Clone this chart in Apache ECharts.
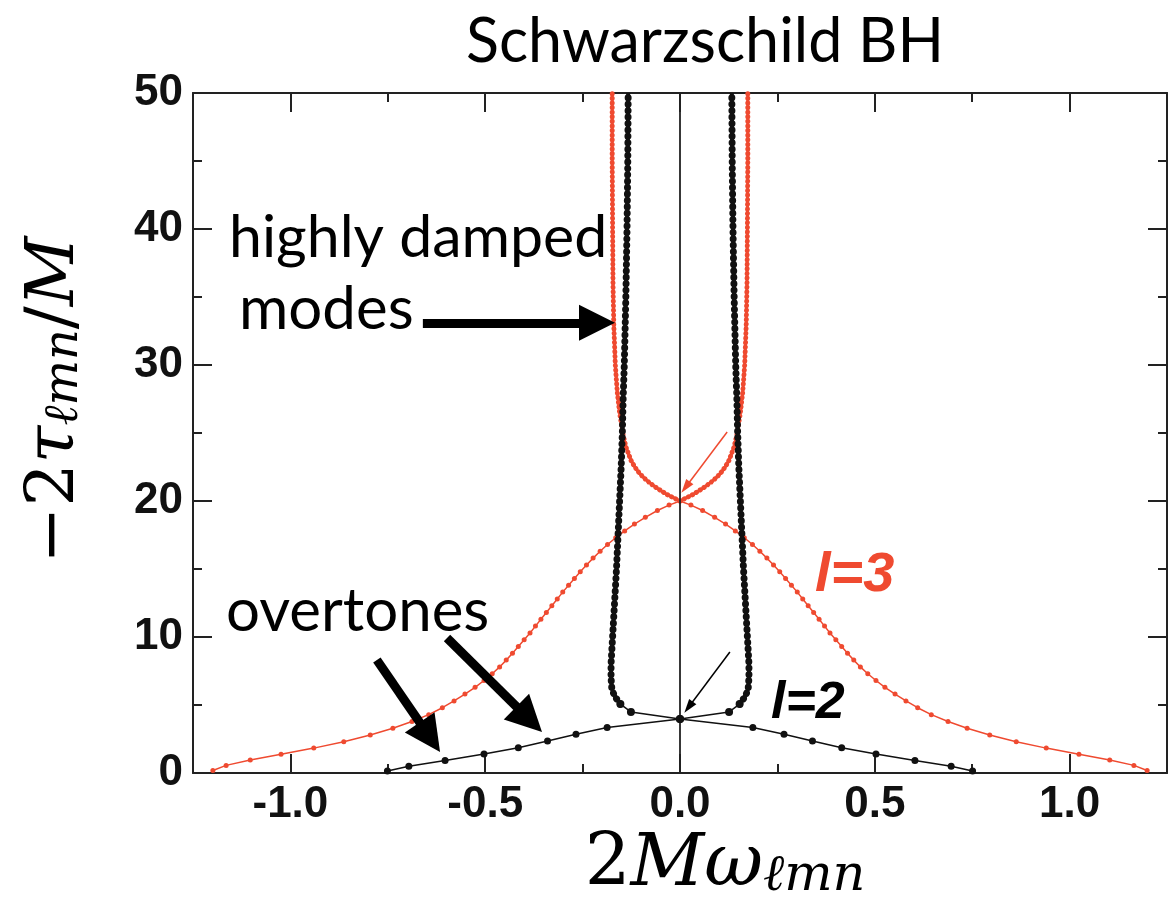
<!DOCTYPE html>
<html>
<head>
<meta charset="utf-8">
<script src="https://cdn.jsdelivr.net/npm/echarts@6/dist/echarts.min.js"></script>
<style>
html, body { margin: 0; padding: 0; background: #fff; }
#chart { width: 1174px; height: 905px; }
</style>
</head>
<body>
<div id="chart"></div>
<script>
// l=2 fundamental + overtones up to the algebraically special mode (right half, mirrored)
const l2LowX = [0.751, 0.696, 0.603, 0.503, 0.415, 0.340, 0.267, 0.187, 0];
const l2LowY = [0.14, 0.50, 0.92, 1.40, 1.85, 2.35, 2.85, 3.35, 3.97];

// l=2 highly damped branch, from the special mode upwards
const l2UpX = [0, 0.126, 0.153, 0.168, 0.175, 0.177, 0.177, 0.173, 0.168, 0.163, 0.159, 0.155, 0.151, 0.148, 0.146, 0.143, 0.139, 0.136, 0.134, 0.133];
const l2UpY = [3.97, 4.49, 5.07, 5.65, 6.2, 7, 8, 10, 12.5, 15, 17.5, 20, 22.5, 25, 27.5, 30, 35, 40, 45, 50];

// l=3 overtones down to the special mode at 20
const l3LowX = [1.199, 1.165, 1.103, 1.024, 0.940, 0.863, 0.795, 0.737, 0.688, 0.645, 0.610, 0.580, 0.552, 0.526, 0.503, 0.482, 0.463, 0.446, 0.430, 0.415, 0.400, 0.385, 0.371, 0.357, 0.343, 0.329, 0.315, 0.301, 0.286, 0.271, 0.256, 0.240, 0.223, 0.205, 0.186, 0.165, 0.142, 0.117, 0.089, 0.058, 0.028, 0];
const l3LowY = [0.18, 0.56, 0.96, 1.38, 1.83, 2.30, 2.79, 3.29, 3.79, 4.29, 4.80, 5.30, 5.80, 6.30, 6.80, 7.30, 7.80, 8.30, 8.80, 9.30, 9.80, 10.30, 10.80, 11.30, 11.80, 12.30, 12.80, 13.30, 13.80, 14.30, 14.80, 15.30, 15.80, 16.30, 16.80, 17.30, 17.80, 18.30, 18.80, 19.30, 19.70, 20];

// l=3 highly damped branch
const l3UpX = [0, 0.035, 0.062, 0.085, 0.103, 0.116, 0.126, 0.139, 0.147, 0.155, 0.161, 0.166, 0.170, 0.172, 0.173, 0.174, 0.174];
const l3UpY = [20, 20.5, 21, 21.5, 22, 22.5, 23, 24, 25, 26.5, 28, 30, 33, 36, 40, 45, 50];

const majorX = [-1, -0.5, 0, 0.5, 1];
const minorX = [-1.25, -0.75, -0.25, 0.25, 0.75, 1.25];

const red = '#ef4a30';
const ink = '#111';

function pairs(xs, ys, sign) {
    return xs.map((x, i) => [sign * x, ys[i]]);
}
// whole curve: left half then right half back out
function both(xs, ys) {
    return pairs(xs, ys, -1).concat(pairs(xs, ys, 1).reverse().slice(1));
}

let chart = echarts.init(document.getElementById('chart'));

// frame axes
function xAx(pos, ticks, len, label) {
    return {
        type: 'value', min: -1.25, max: 1.25, position: pos,
        axisLine: { show: len > 10, onZero: false, lineStyle: { color: '#222', width: 2 } },
        axisTick: { show: true, inside: true, length: len, customValues: ticks, lineStyle: { color: '#222', width: 2 } },
        axisLabel: label ? {
            show: true, customValues: ticks, margin: 10,
            formatter: v => v.toFixed(1),
            fontFamily: '"Liberation Sans", Arial, sans-serif', fontWeight: 'bold', fontSize: 44, color: ink
        } : { show: false },
        splitLine: { show: false }
    };
}
function yAx(pos, label) {
    return {
        type: 'value', min: 0, max: 50, interval: 10, position: pos,
        axisLine: { show: true, onZero: false, lineStyle: { color: '#222', width: 2 } },
        axisTick: { show: true, inside: true, length: 19, lineStyle: { color: '#222', width: 2 } },
        minorTick: { show: true, splitNumber: 2, length: 9, lineStyle: { color: '#222', width: 2 } },
        axisLabel: label ? {
            show: true, margin: 10,
            fontFamily: '"Liberation Sans", Arial, sans-serif', fontWeight: 'bold', fontSize: 44, color: ink
        } : { show: false },
        splitLine: { show: false }
    };
}

function beads(data, color, width, gap) {
    return {
        type: 'line', data: data, symbol: 'none', z: 4,
        lineStyle: { color: color, width: width, type: [0.01, gap], cap: 'round' }
    };
}
function solid(data, color, width) {
    return {
        type: 'line', data: data, symbol: 'none', z: 4,
        lineStyle: { color: color, width: width }
    };
}

// arrows are annotations, in data coords
const arrows = [
    { from: [-0.66, 33.1], to: [-0.213, 33.1], big: true },
    { from: [-0.778, 8.31], to: [-0.642, 2.63], big: true },
    { from: [-0.598, 9.93], to: [-0.387, 3.95], big: true },
    { from: [0.121, 25.07], to: [0.0144, 21.01], color: red },
    { from: [0.128, 8.9], to: [0.022, 4.84] }
];

let l3R = pairs(l3UpX, l3UpY, 1), l3L = pairs(l3UpX, l3UpY, -1);
let l2R = pairs(l2UpX.slice(2), l2UpY.slice(2), 1), l2L = pairs(l2UpX.slice(2), l2UpY.slice(2), -1);

let series = [
    {
        type: 'line', data: both(l3LowX, l3LowY), z: 3,
        symbol: 'circle', symbolSize: 5, showAllSymbol: true,
        lineStyle: { color: red, width: 1.5 }, itemStyle: { color: red }
    },
    solid(l3R, red, 3), solid(l3L, red, 3),
    beads(l3R, red, 5, 4.6), beads(l3L, red, 5, 4.6),
    {
        type: 'line', data: both(l2LowX, l2LowY), z: 5,
        symbol: 'circle', symbolSize: 7, showAllSymbol: true,
        lineStyle: { color: ink, width: 1.5 }, itemStyle: { color: ink }
    },
    {
        type: 'line', data: pairs(l2UpX.slice(0, 3), l2UpY.slice(0, 3), 1), z: 5,
        symbol: 'circle', symbolSize: 8,
        lineStyle: { color: ink, width: 1.5 }, itemStyle: { color: ink }
    },
    {
        type: 'line', data: pairs(l2UpX.slice(0, 3), l2UpY.slice(0, 3), -1), z: 5,
        symbol: 'circle', symbolSize: 8,
        lineStyle: { color: ink, width: 1.5 }, itemStyle: { color: ink }
    },
    Object.assign(solid(l2R, ink, 4), { z: 5 }),
    Object.assign(solid(l2L, ink, 4), { z: 5 }),
    Object.assign(beads(l2R, ink, 7, 6.4), { z: 5 }),
    Object.assign(beads(l2L, ink, 7, 6.4), { z: 5 }),
    {
        // zero line and annotation arrows
        type: 'line', data: [], z: 6,
        markLine: {
            silent: true, animation: false,
            symbol: ['none', 'none'],
            label: { show: false },
            data: [
                { xAxis: 0, lineStyle: { color: '#222', width: 1.8, type: 'solid' } }
            ].concat(arrows.map(a => [
                {
                    coord: a.from, symbol: 'none',
                    lineStyle: { color: a.color || '#000', width: a.big ? 9 : 1.5, type: 'solid' }
                },
                {
                    coord: a.to, symbol: 'triangle',
                    symbolSize: a.big ? [36, 36] : [9, 14],
                    itemStyle: { color: a.color || '#000' }
                }
            ]))
        }
    }
];

const serif = '"DejaVu Serif", "Liberation Serif", serif';

let option = {
    animation: false,
    backgroundColor: '#fff',
    grid: { left: 193, right: 7, top: 93, bottom: 132, containLabel: false },
    xAxis: [
        xAx('bottom', majorX, 19, true),
        xAx('bottom', minorX, 9, false),
        xAx('top', majorX, 19, false),
        xAx('top', minorX, 9, false)
    ],
    yAxis: [yAx('left', true), yAx('right', false)],
    series: series,
    graphic: [
        {
            type: 'text', x: 705, y: 42,
            style: { text: 'Schwarzschild BH', font: '61px Lato, sans-serif', fill: '#000', textAlign: 'center', textVerticalAlign: 'middle' }
        },
        {
            type: 'text', x: 229, y: 238, z: 10,
            style: { text: 'highly damped', font: '59px Lato, sans-serif', fill: '#000', textAlign: 'left', textVerticalAlign: 'middle' }
        },
        {
            type: 'text', x: 239, y: 310, z: 10,
            style: { text: 'modes', font: '60px Lato, sans-serif', fill: '#000', textAlign: 'left', textVerticalAlign: 'middle' }
        },
        {
            type: 'text', x: 226, y: 612, z: 10,
            style: { text: 'overtones', font: '60px Lato, sans-serif', fill: '#000', textAlign: 'left', textVerticalAlign: 'middle' }
        },
        {
            type: 'text', x: 815, y: 576, z: 10,
            style: { text: 'l=3', font: 'italic bold 56px "Liberation Sans", Arial, sans-serif', fill: red, textAlign: 'left', textVerticalAlign: 'middle' }
        },
        {
            type: 'text', x: 771, y: 704, z: 10,
            style: { text: 'l=2', font: 'italic bold 52px "Liberation Sans", Arial, sans-serif', fill: '#000', textAlign: 'left', textVerticalAlign: 'middle' }
        },
        {
            type: 'text', x: 725, y: 862, z: 10,
            style: {
                text: '{u|2}{i|Mω}{s|ℓmn}',
                textAlign: 'center', textVerticalAlign: 'middle',
                rich: {
                    u: { fontFamily: serif, fontSize: 72, lineHeight: 80, verticalAlign: 'bottom', fill: '#000' },
                    i: { fontFamily: serif, fontStyle: 'italic', fontSize: 72, lineHeight: 80, verticalAlign: 'bottom', fill: '#000' },
                    s: { fontFamily: serif, fontStyle: 'italic', fontSize: 51, lineHeight: 46, verticalAlign: 'bottom', fill: '#000' }
                }
            }
        },
        {
            type: 'text', x: 50, y: 400, rotation: Math.PI / 2, z: 10,
            style: {
                text: '{u|−2}{i|τ}{s|ℓmn}{u|/}{i|M}',
                textAlign: 'center', textVerticalAlign: 'middle',
                rich: {
                    u: { fontFamily: serif, fontSize: 68, lineHeight: 78, verticalAlign: 'bottom', fill: '#000' },
                    i: { fontFamily: serif, fontStyle: 'italic', fontSize: 68, lineHeight: 78, verticalAlign: 'bottom', fill: '#000' },
                    s: { fontFamily: serif, fontStyle: 'italic', fontSize: 48, lineHeight: 44, verticalAlign: 'bottom', fill: '#000' }
                }
            }
        }
    ]
};

chart.setOption(option);
</script>
</body>
</html>
